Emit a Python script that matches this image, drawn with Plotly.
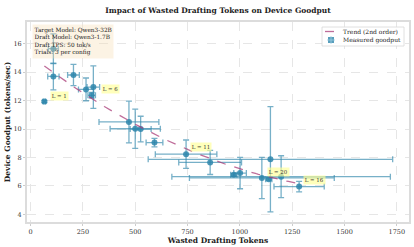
import plotly.graph_objects as go

# Measured data (mean wasted tokens, mean goodput, std devs)
wasted_tokens = [66, 109, 109, 205, 265, 300, 292, 470, 500, 526, 592, 743, 858, 1146, 971, 1001, 1105, 1138, 1197, 1283]
goodput =       [11.94, 15.65, 13.70, 13.80, 12.79, 12.95, 12.37, 10.50, 10.02, 10.00, 9.05, 8.23, 7.65, 7.87, 6.78, 6.90, 6.56, 6.47, 6.65, 5.95]
tokens_std =    [6, 24, 27, 28, 36, 30, 18, 143, 120, 50, 40, 147, 150, 584, 15, 30, 346, 15, 522, 120]
goodput_std =   [0.08, 1.05, 0.94, 0.75, 0.80, 1.50, 0.20, 1.47, 1.38, 0.90, 0.30, 1.00, 0.85, 3.70, 0.10, 1.10, 1.45, 0.10, 1.47, 0.37]

trend_coef = [3.375e-6, -0.011347, 15.167]
trend_x_range = [66, 1283]

# Labelled configurations (anchored on measured points)
label_text = ["L = 1", "L = 6", "L = 11", "L = 20", "L = 16"]
label_x = [66, 292, 743, 1105, 1283]
label_y = [11.94, 12.37, 8.23, 6.56, 5.95]
label_shift = [(6, 5), (9, 6), (4, 7), (5, 6), (4, 7)]

info_lines = ["Target Model: Qwen3-32B", "Draft Model: Qwen3-1.7B", "Draft TPS: 50 tok/s", "Trials: 3 per config"]
legend_names = ["Trend (2nd order)", "Measured goodput"]

x_ticks = [0, 250, 500, 750, 1000, 1250, 1500, 1750]
y_ticks = [4, 6, 8, 10, 12, 14, 16]

FONT = "DejaVu Serif"
BLUE = "#2E86AB"
EBAR = "rgba(46,134,171,0.65)"
PINK = "rgba(170,60,120,0.75)"

# plot-area geometry in pixels (for the hand-drawn compact legend)
W, H = 414, 247
ML, MR, MT, MB = 27, 5, 22, 25
PW, PH = W - ML - MR, H - MT - MB


def px(xp):
    return (xp - ML) / PW


def py(yp):
    return (H - MB - yp) / PH


n = 120
tx = [trend_x_range[0] + (trend_x_range[1] - trend_x_range[0]) * i / (n - 1) for i in range(n)]
ty = [trend_coef[0] * v * v + trend_coef[1] * v + trend_coef[2] for v in tx]

fig = go.Figure()
fig.add_trace(go.Scatter(
    x=wasted_tokens, y=goodput, mode="markers", name=legend_names[1], showlegend=False,
    marker=dict(color=BLUE, size=6, opacity=0.85),
    error_x=dict(type="data", array=tokens_std, color=EBAR, thickness=1.3, width=3),
    error_y=dict(type="data", array=goodput_std, color=EBAR, thickness=1.3, width=3),
))
fig.add_trace(go.Scatter(
    x=tx, y=ty, mode="lines", name=legend_names[0], showlegend=False,
    line=dict(color=PINK, width=1.3, dash="dash"),
))

for t, x, y, (dx, dy) in zip(label_text, label_x, label_y, label_shift):
    fig.add_annotation(
        x=x, y=y, text=t, showarrow=False, xanchor="left", yanchor="middle",
        xshift=dx, yshift=dy, font=dict(family=FONT, size=5.4, color="#333"),
        bgcolor="rgba(255,255,150,0.65)", borderpad=0.8,
    )

fig.add_annotation(
    xref="paper", yref="paper", x=px(32), y=py(24), xanchor="left", yanchor="top",
    text="<br>".join(info_lines), align="left", showarrow=False,
    font=dict(family=FONT, size=5.8, color="#222"),
    bgcolor="rgba(245,222,179,0.35)", borderpad=1.5,
)

# compact legend
shapes = [
    dict(type="rect", xref="paper", yref="paper", x0=px(322), x1=px(404), y0=py(46), y1=py(27),
         fillcolor="rgba(255,255,255,0.9)", line=dict(color="#d8d8d8", width=0.8), layer="above"),
    dict(type="line", xref="paper", yref="paper", x0=px(325), x1=px(337), y0=py(31.5), y1=py(31.5),
         line=dict(color=PINK, width=1.3, dash="dash"), layer="above"),
    dict(type="rect", xref="paper", yref="paper", x0=px(328), x1=px(334), y0=py(43), y1=py(37),
         fillcolor=BLUE, opacity=0.8, line=dict(width=0), layer="above"),
    dict(type="line", xref="paper", yref="paper", x0=px(327), x1=px(335), y0=py(40), y1=py(40),
         line=dict(color="rgba(160,205,225,1)", width=0.8), layer="above"),
    dict(type="line", xref="paper", yref="paper", x0=px(331), x1=px(331), y0=py(44), y1=py(36),
         line=dict(color="rgba(160,205,225,1)", width=0.8), layer="above"),
]
for name, yp in zip(legend_names, [31.5, 40]):
    fig.add_annotation(xref="paper", yref="paper", x=px(341), y=py(yp), xanchor="left", yanchor="middle",
                       text=name, showarrow=False, font=dict(family=FONT, size=6, color="#222"))

fig.update_layout(
    width=W, height=H,
    margin=dict(l=ML, r=MR, t=MT, b=MB),
    paper_bgcolor="white", plot_bgcolor="white",
    font=dict(family=FONT, size=6.5, color="#333"),
    title=dict(text="<b>Impact of Wasted Drafting Tokens on Device Goodput</b>",
               x=0.5, xanchor="center", xref="paper", yref="container", y=0.96, yanchor="middle",
               font=dict(family=FONT, size=7.5, color="#222")),
    shapes=shapes,
    showlegend=False,
)
fig.update_xaxes(
    range=[-17, 1808], tickvals=x_ticks, ticktext=[str(v) for v in x_ticks],
    showgrid=True, gridcolor="#e6e6e6", griddash="dash", gridwidth=0.6,
    showline=True, linecolor="#dcdcdc", linewidth=2, mirror=True, zeroline=False,
    ticks="outside", ticklen=2, tickcolor="#ccc", tickfont=dict(family=FONT, size=6.5),
    automargin=False,
    title=dict(text="<b>Wasted Drafting Tokens</b>", font=dict(family=FONT, size=7.5, color="#222"), standoff=2),
)
fig.update_yaxes(
    range=[3.46, 17.53], tickvals=y_ticks, ticktext=[str(v) for v in y_ticks],
    showgrid=True, gridcolor="#e6e6e6", griddash="dash", gridwidth=0.6,
    showline=True, linecolor="#dcdcdc", linewidth=2, mirror=True, zeroline=False,
    ticks="outside", ticklen=2, tickcolor="#ccc", tickfont=dict(family=FONT, size=6.5),
    automargin=False,
    title=dict(text="<b>Device Goodput (tokens/sec)</b>", font=dict(family=FONT, size=7.5, color="#222"), standoff=2),
)

fig.write_html("out.html", config={"displayModeBar": False},
               post_script="document.body.style.margin='0px';document.body.style.overflow='hidden';")
